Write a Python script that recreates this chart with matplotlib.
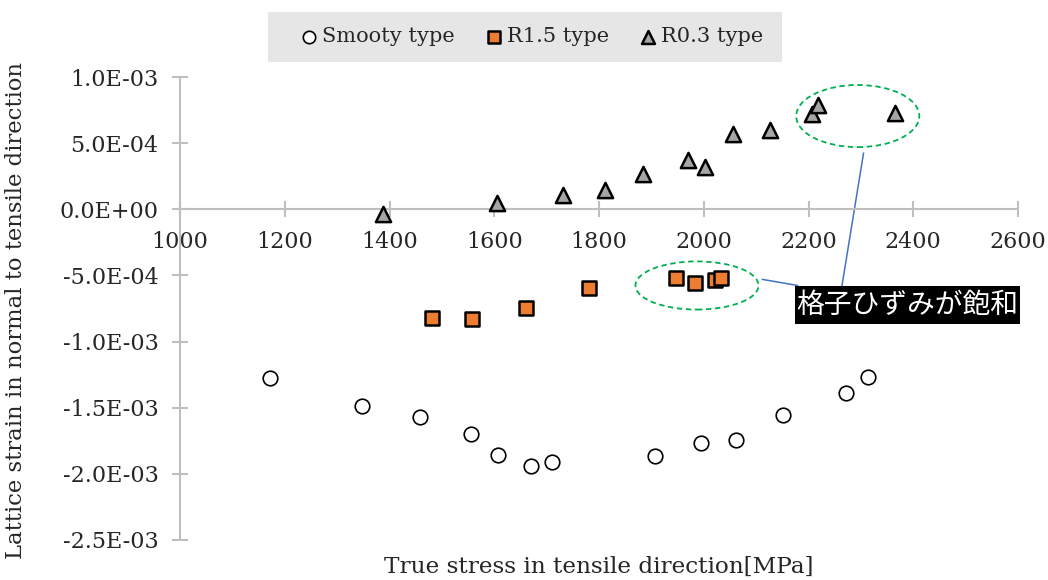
import matplotlib
matplotlib.use("Agg")
import matplotlib.pyplot as plt
from matplotlib.patches import Ellipse, Rectangle

plt.rcParams['font.family'] = ['DejaVu Serif', 'Noto Sans CJK JP']

###### DATA ######
smooth_x = [1172, 1348, 1458, 1556, 1608, 1671, 1710, 1906, 1995, 2062, 2152, 2271, 2313]
smooth_y = [-1.278e-3, -1.487e-3, -1.573e-3, -1.695e-3, -1.858e-3, -1.942e-3, -1.909e-3,
            -1.864e-3, -1.767e-3, -1.745e-3, -1.553e-3, -1.389e-3, -1.270e-3]

r15_x = [1482, 1557, 1661, 1780, 1947, 1984, 2021, 2032]
r15_y = [-8.23e-4, -8.33e-4, -7.48e-4, -5.93e-4, -5.23e-4, -5.55e-4, -5.36e-4, -5.23e-4]

r03_x = [1388, 1606, 1731, 1811, 1884, 1969, 2002, 2055, 2126, 2206, 2218, 2365]
r03_y = [-3.8e-5, 4.5e-5, 1.06e-4, 1.44e-4, 2.7e-4, 3.7e-4, 3.2e-4, 5.68e-4, 6.0e-4,
         7.2e-4, 7.9e-4, 7.25e-4]

x_ticks = [1000, 1200, 1400, 1600, 1800, 2000, 2200, 2400, 2600]
y_ticks = [-2.5e-3, -2.0e-3, -1.5e-3, -1.0e-3, -5.0e-4, 0.0, 5.0e-4, 1.0e-3]
y_labels = ['-2.5E-03', '-2.0E-03', '-1.5E-03', '-1.0E-03', '-5.0E-04',
            '0.0E+00', '5.0E-04', '1.0E-03']

note_text = '格子ひずみが飽和'

###### PLOT ######
txt = '#262626'
fig = plt.figure(figsize=(10.48, 5.8), dpi=100)
ax = fig.add_axes([0.1718, 0.069, 0.7996, 0.7982])

ax.scatter(smooth_x, smooth_y, s=110, marker='o', facecolor='white',
           edgecolor='black', linewidth=1.2, label='Smooty type', zorder=3)
ax.scatter(r15_x, r15_y, s=105, marker='s', facecolor='#ED7D31',
           edgecolor='black', linewidth=1.8, label='R1.5 type', zorder=3)
ax.scatter(r03_x, r03_y, s=120, marker='^', facecolor='#A5A5A5',
           edgecolor='black', linewidth=1.8, label='R0.3 type', zorder=3)

ax.set_xlim(1000, 2600)
ax.set_ylim(-2.5e-3, 1.0e-3)
ax.set_xticks(x_ticks)
ax.set_yticks(y_ticks)
ax.set_yticklabels(y_labels)

ax.spines['top'].set_visible(False)
ax.spines['right'].set_visible(False)
ax.spines['bottom'].set_position(('data', 0))
for sp in ('left', 'bottom'):
    ax.spines[sp].set_color('#BFBFBF')
    ax.spines[sp].set_linewidth(1.5)
ax.tick_params(direction='inout', length=11, width=1.5, color='#BFBFBF',
               labelsize=16, labelcolor=txt)
ax.tick_params(axis='x', pad=10)
ax.tick_params(axis='y', pad=10)

ax.set_xlabel('True stress in tensile direction[MPa]', fontsize=16.7, color=txt)
ax.xaxis.set_label_coords(0.5, -0.035)
ax.set_ylabel('Lattice strain in normal to tensile direction', fontsize=16.4, color=txt)
ax.yaxis.set_label_coords(-0.183, 0.495)

# annotations
green = '#00B050'
ax.add_patch(Ellipse((2294, 7.05e-4), 235, 4.7e-4, fill=False, edgecolor=green,
                     linestyle=(0, (3, 2)), linewidth=1.3, clip_on=False))
ax.add_patch(Ellipse((1987, -5.76e-4), 235, 3.64e-4, fill=False, edgecolor=green,
                     linestyle=(0, (3, 2)), linewidth=1.3, clip_on=False))
ax.plot([2305, 2263], [4.24e-4, -5.98e-4], color='#4472C4', linewidth=1.1, zorder=2)
ax.plot([2112, 2179], [-5.3e-4, -5.76e-4], color='#4472C4', linewidth=1.1, zorder=2)
ax.add_patch(Rectangle((2175, -8.64e-4), 428, 2.81e-4, facecolor='black',
                       edgecolor='none', clip_on=False, zorder=4))
ax.text(2175 + 214, -7.25e-4, note_text, color='white', fontsize=20,
        family=['Noto Sans CJK JP'], ha='center', va='center', zorder=5,
        clip_on=False)

# legend with a grey band behind it
fig.patches.append(Rectangle((0.2557, 0.8931), 0.4905, 0.0862, facecolor='#E7E6E6',
                             edgecolor='none', transform=fig.transFigure, zorder=0))
leg = fig.legend(loc='center left', bbox_to_anchor=(297 / 1048, 1 - 37 / 580), ncol=3,
                 frameon=False, fontsize=15, handletextpad=0.05, columnspacing=1.3,
                 borderpad=0, borderaxespad=0, handlelength=1.15, markerscale=0.85)
for t in leg.get_texts():
    t.set_color(txt)

fig.savefig('out.png', dpi=100)
